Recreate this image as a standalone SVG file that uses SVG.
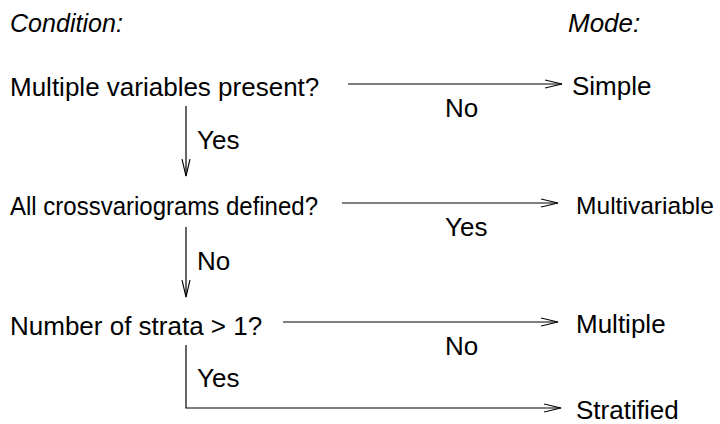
<svg xmlns="http://www.w3.org/2000/svg" width="720" height="424" viewBox="0 0 720 424">
<style>
text{font-family:"Liberation Sans",Arial,sans-serif;font-size:26px;fill:#000}
.h{font-style:italic}
.c{stroke:#000;stroke-width:1.2;fill:none}
</style>
<defs>
<marker id="a" markerUnits="userSpaceOnUse" markerWidth="20" markerHeight="12" refX="17" refY="5" orient="auto">
<path d="M0,1 L17,5 L0,9" fill="none" stroke="#000" stroke-width="1.1"/>
</marker>
</defs>
<rect width="720" height="424" fill="#fff"/>
<g id="headers">
<text class="h" x="10" y="32" textLength="113" lengthAdjust="spacingAndGlyphs">Condition:</text>
<text class="h" x="568" y="32">Mode:</text>
</g>
<g id="cond1"><text x="10" y="96">Multiple variables present?</text></g>
<g id="cond2"><text x="10" y="215" style="font-size:25px" textLength="308" lengthAdjust="spacingAndGlyphs">All crossvariograms defined?</text></g>
<g id="cond3"><text x="10" y="335">Number of strata &gt; 1?</text></g>
<g id="mode-simple"><text x="572" y="95">Simple</text></g>
<g id="mode-multivariable"><text x="576" y="214" style="font-size:24.5px" textLength="138" lengthAdjust="spacingAndGlyphs">Multivariable</text></g>
<g id="mode-multiple"><text x="576" y="333">Multiple</text></g>
<g id="mode-stratified"><text x="576" y="419">Stratified</text></g>
<g id="connectors">
<path class="c" d="M348,84 H562" marker-end="url(#a)"/>
<path class="c" d="M186,106 V176" marker-end="url(#a)"/>
<path class="c" d="M342,203 H558" marker-end="url(#a)"/>
<path class="c" d="M186,227 V297" marker-end="url(#a)"/>
<path class="c" d="M283,322 H558" marker-end="url(#a)"/>
<path class="c" d="M186,345 V408 H561" marker-end="url(#a)"/>
</g>
<g id="labels">
<text x="445" y="117">No</text>
<text x="197" y="149">Yes</text>
<text x="445" y="236">Yes</text>
<text x="197" y="270">No</text>
<text x="445" y="355">No</text>
<text x="197" y="387">Yes</text>
</g>
</svg>
